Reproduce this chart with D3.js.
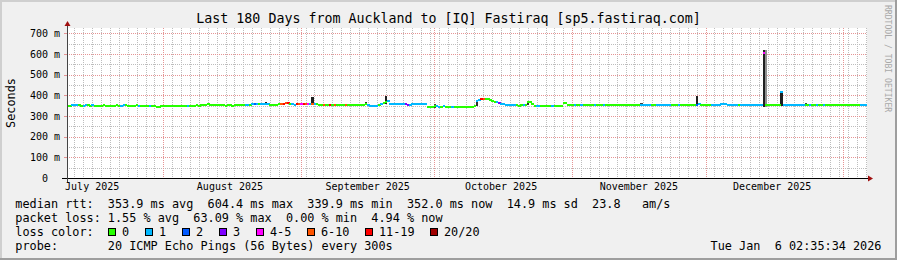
<!DOCTYPE html>
<html><head><meta charset="utf-8">
<script src="https://cdn.jsdelivr.net/npm/d3@7"></script>
<style>
html,body{margin:0;padding:0;background:#fff;}
svg text{font-family:"DejaVu Sans Mono",monospace;white-space:pre;}
</style></head><body>
<svg id="c" width="897" height="260"></svg>
<script>
const title = "Last 180 Days from Auckland to [IQ] Fastiraq [sp5.fastiraq.com]";
const yAxisTitle = "Seconds";
const watermark = "RRDTOOL / TOBI OETIKER";
const yTicks = [0, 100, 200, 300, 400, 500, 600, 700];
const yTickLabels = ["0  ", "100 m", "200 m", "300 m", "400 m", "500 m", "600 m", "700 m"];
const monthStarts = ["2025-07-01", "2025-08-01", "2025-09-01", "2025-10-01", "2025-11-01", "2025-12-01"];
const monthLabels = ["July 2025", "August 2025", "September 2025", "October 2025", "November 2025", "December 2025"];
const timeStart = "2025-07-10T08:00:00Z";
const timeEnd = "2026-01-06T08:00:00Z";
const binHours = 12;
const lossLabels = ["0", "1", "2", "3", "4-5", "6-10", "11-19", "20/20"];
const lossColors = ["#26ff00", "#00b8ff", "#0059ff", "#7e00ff", "#ff00ff", "#ff5500", "#ff0000", "#a00000"];
// median rtt (ms) per 12h bin
const median = [
350,349,352,353,353,351,349,350,352,351,
350,351,350,349,350,350,351,350,349,350,
350,350,351,350,350,352,351,350,350,350,
350,351,350,350,349,350,350,349,347,346,
345,345,346,346,346,347,346,346,347,346,
347,346,347,347,348,349,350,350,351,350,
351,352,355,356,355,352,351,351,351,351,
351,350,351,351,350,351,351,351,352,352,
353,354,352,356,358,360,358,356,358,360,
356,354,354,354,355,356,359,360,362,361,
360,358,355,356,357,357,358,357,356,357,
360,357,356,355,355,354,354,354,354,355,
354,354,355,354,354,354,355,355,354,354,
354,354,354,355,357,354,350,348,348,348,
355,356,362,369,370,360,359,359,359,359,
359,359,357,354,355,357,357,357,357,357,
357,357,345,345,345,346,347,345,345,346,
345,344,345,345,344,345,345,345,344,345,
345,345,345,346,372,375,382,384,383,380,
376,372,368,365,362,358,357,352,351,351,
351,351,351,350,351,351,352,369,369,356,
350,349,349,349,349,350,349,349,349,349,
349,349,350,364,363,355,354,354,354,354,
354,354,355,354,354,354,355,354,354,354,
353,353,352,353,353,352,353,353,353,353,
353,353,353,353,353,353,353,353,353,352,
352,352,352,353,353,352,352,352,352,352,
352,352,353,353,353,353,353,353,353,353,
353,353,353,355,356,353,353,353,353,353,
353,353,353,354,356,357,356,353,352,352,
352,352,352,352,352,352,352,352,352,352,
352,352,352,604,352,352,352,352,352,352,
352,414,352,352,352,352,352,352,352,352,
352,352,353,352,352,352,352,352,353,353,
353,353,353,352,353,353,353,353,353,353,
353,353,353,353,353,353,353,353,352,352
];
// loss colour index per bin (index into lossLabels)
const loss = [
0,0,1,1,1,0,0,1,1,0,
0,1,0,0,0,0,0,0,0,0,
0,0,0,0,1,1,0,0,0,0,
0,0,1,0,0,0,0,1,0,0,
0,0,0,0,0,0,0,0,0,0,
0,0,0,0,1,0,0,0,0,0,
0,0,0,0,0,0,0,0,0,0,
0,0,0,0,0,0,0,0,0,0,
1,1,0,1,2,1,0,1,1,1,
1,0,0,0,0,0,5,6,5,6,
0,1,1,6,5,4,6,5,4,1,
5,1,0,0,0,5,0,0,6,0,
5,0,0,0,0,5,0,0,0,0,
0,0,0,0,0,1,1,1,1,1,
0,1,0,0,1,1,1,1,1,1,
1,1,3,3,1,1,1,1,1,1,
1,1,0,0,0,0,1,1,0,1,
0,0,0,1,0,0,0,0,0,0,
0,0,0,0,1,1,6,5,0,0,
0,0,0,1,3,1,1,1,1,1,
1,1,0,0,0,1,0,0,0,0,
0,1,1,0,0,0,0,0,1,0,
0,0,0,0,0,0,0,0,1,0,
0,1,0,0,0,0,0,1,0,0,
0,1,0,0,0,0,0,0,0,0,
0,0,0,0,0,0,0,0,1,1,
1,1,1,0,0,1,1,1,1,1,
1,1,0,0,0,1,0,0,0,0,
0,0,0,2,1,0,0,0,0,0,
1,1,1,1,1,1,1,1,1,1,
1,1,0,1,1,1,1,1,1,1,
1,1,1,4,0,0,0,0,0,0,
0,1,1,1,1,1,1,1,1,1,
1,1,0,0,1,0,0,1,0,0,
1,0,0,0,0,0,0,0,0,0,
0,0,0,0,0,0,0,1,1,1
];
// smoke (ping spread) where visible: bin, low ms, high ms, shade
const smokeBins = [89, 110, 134, 143, 165, 184, 207, 258, 266, 283, 313, 314, 321, 332];
const smokeLow  = [352, 352, 352, 360, 340, 350, 355, 350, 350, 350, 345, 345, 350, 350];
const smokeHigh = [368, 390, 367, 395, 356, 378, 372, 364, 360, 398, 618, 618, 420, 362];
const smokeShade = ["#202020","#202020","#303030","#202020","#404040","#303030","#303030","#404040","#b0b0b0","#202020","#202020","#909090","#202020","#404040"];
const legendRows = [
  "median rtt:  353.9 ms avg  604.4 ms max  339.9 ms min  352.0 ms now  14.9 ms sd  23.8   am/s",
  "packet loss: 1.55 % avg  63.09 % max  0.00 % min  4.94 % now",
  "loss color:",
  "probe:       20 ICMP Echo Pings (56 Bytes) every 300s"
];
const timestamp = "Tue Jan  6 02:35:34 2026";

const W = 897, H = 260;
const svg = d3.select("#c");
const t0 = new Date(timeStart), t1 = new Date(timeEnd);
const x = d3.scaleUtc().domain([t0, t1]).range([67, 867]);
const y = d3.scaleLinear().domain([0, 725]).range([178, 28]);

// background & frame
svg.append("rect").attr("width", W).attr("height", H).attr("fill", "#f0f0f0");
svg.append("rect").attr("x", 0).attr("y", 0).attr("width", W).attr("height", 2).attr("fill", "#cfcfcf");
svg.append("rect").attr("x", 0).attr("y", 0).attr("width", 2).attr("height", H).attr("fill", "#cfcfcf");
svg.append("rect").attr("x", 0).attr("y", H - 2).attr("width", W).attr("height", 2).attr("fill", "#9e9e9e");
svg.append("rect").attr("x", W - 2).attr("y", 0).attr("width", 2).attr("height", H).attr("fill", "#9e9e9e");

// canvas
const [x0, x1] = x.range(), [yb, yt] = y.range();
svg.append("rect").attr("x", x0).attr("y", yt).attr("width", x1 - x0).attr("height", yb - yt).attr("fill", "#ffffff");

const grid = svg.append("g").attr("shape-rendering", "crispEdges");
const minorCol = "#bdbdbd", majorCol = "#e59494";
// minor vertical grid every 2 days
const majorT = monthStarts.map(s => new Date(s + "T00:00:00Z")).filter(d => d >= t0 && d <= t1);
majorT.push(new Date("2026-01-01T00:00:00Z"));
const days = d3.utcDay.range(d3.utcDay.floor(t0), t1).filter((d, i) => i % 2 === 0 && d >= t0);
const majorSet = new Set(majorT.map(d => +d));
grid.selectAll("line.mv").data(days.filter(d => !majorSet.has(+d))).join("line")
  .attr("x1", d => Math.round(x(d)) + 0.5).attr("x2", d => Math.round(x(d)) + 0.5)
  .attr("y1", yt).attr("y2", yb)
  .attr("stroke", minorCol).attr("stroke-dasharray", "1,1");
// minor horizontal grid every 50
const minorY = d3.range(50, 725, 100);
grid.selectAll("line.mh").data(minorY).join("line")
  .attr("x1", x0).attr("x2", x1)
  .attr("y1", d => Math.round(y(d)) + 0.5).attr("y2", d => Math.round(y(d)) + 0.5)
  .attr("stroke", minorCol).attr("stroke-dasharray", "1,1");
// major grids
grid.selectAll("line.Mv").data(majorT.filter(d => d >= t0 && d <= t1)).join("line")
  .attr("x1", d => Math.round(x(d)) + 0.5).attr("x2", d => Math.round(x(d)) + 0.5)
  .attr("y1", yt).attr("y2", yb)
  .attr("stroke", majorCol).attr("stroke-dasharray", "1,1");
grid.selectAll("line.Mh").data(yTicks.filter(v => v > 0)).join("line")
  .attr("x1", x0).attr("x2", x1)
  .attr("y1", d => Math.round(y(d)) + 0.5).attr("y2", d => Math.round(y(d)) + 0.5)
  .attr("stroke", majorCol).attr("stroke-dasharray", "1,1");
grid.selectAll("line.Mt").data(yTicks.filter(v => v > 0)).join("line")
  .attr("x1", x0 - 3).attr("x2", x0)
  .attr("y1", d => Math.round(y(d)) + 0.5).attr("y2", d => Math.round(y(d)) + 0.5)
  .attr("stroke", majorCol);

// data
const binMs = binHours * 3600 * 1000;
const binT = i => new Date(+t0 + i * binMs);
const plot = svg.append("g").attr("shape-rendering", "crispEdges");
plot.selectAll("rect.smoke").data(smokeBins.map((b, i) => ({b, lo: smokeLow[i], hi: smokeHigh[i], c: smokeShade[i]}))).join("rect")
  .attr("x", d => x(binT(d.b))).attr("width", d => x(binT(d.b + 1)) - x(binT(d.b)))
  .attr("y", d => y(d.hi)).attr("height", d => y(d.lo) - y(d.hi))
  .attr("fill", d => d.c);
plot.selectAll("rect.med").data(median.map((v, i) => ({i, v, l: loss[i]}))).join("rect")
  .attr("x", d => x(binT(d.i))).attr("width", d => x(binT(d.i + 1)) - x(binT(d.i)) + 0.3)
  .attr("y", d => Math.round(y(d.v)) - 1).attr("height", 2)
  .attr("fill", d => lossColors[d.l]);

// axes
const ax = svg.append("g").attr("shape-rendering", "crispEdges");
ax.append("line").attr("x1", x0 - 5).attr("x2", x1 + 2).attr("y1", yb + 0.5).attr("y2", yb + 0.5).attr("stroke", "#000");
ax.append("line").attr("x1", x0 + 0.5).attr("x2", x0 + 0.5).attr("y1", yb + 4).attr("y2", yt - 2).attr("stroke", "#444");
svg.append("path").attr("d", `M${x1 + 1},${yb - 2.5}L${x1 + 6},${yb + 0.5}L${x1 + 1},${yb + 3.5}Z`).attr("fill", "#a01010");
svg.append("path").attr("d", `M${x0 - 2.5},${yt - 2}L${x0 + 0.5},${yt - 7}L${x0 + 3.5},${yt - 2}Z`).attr("fill", "#a01010");

// y labels
svg.selectAll("text.yl").data(yTicks).join("text")
  .attr("x", 60).attr("y", d => y(d) + 3.7).attr("text-anchor", "end")
  .attr("font-size", "10px").attr("fill", "#000")
  .text((d, i) => yTickLabels[i]);
// month labels (centred at month start + 15 days)
svg.selectAll("text.ml").data(monthStarts).join("text")
  .attr("x", d => x(new Date(+new Date(d + "T00:00:00Z") + 15 * 86400000)))
  .attr("y", 189.5).attr("text-anchor", "middle")
  .attr("font-size", "10px").attr("fill", "#000")
  .text((d, i) => monthLabels[i]);

// title
svg.append("text").attr("x", 448.5).attr("y", 23).attr("text-anchor", "middle")
  .attr("font-size", "13.3px").attr("fill", "#000").text(title);
// y title
svg.append("text").attr("transform", "translate(14.5,103) rotate(-90)").attr("text-anchor", "middle")
  .attr("font-size", "11.84px").attr("fill", "#000").text(yAxisTitle);
// watermark
svg.append("text").attr("transform", "translate(885,5) rotate(90)")
  .attr("font-size", "8.1px").attr("fill", "#a8a8a8").text(watermark);

// legend
svg.selectAll("text.lg").data(legendRows).join("text")
  .attr("x", 15.3).attr("y", (d, i) => 208 + i * 14)
  .attr("font-size", "11.84px").attr("fill", "#000").text(d => d);
const cw = 7.13;
let bx = 108.5;
lossLabels.forEach((lab, i) => {
  svg.append("rect").attr("x", bx).attr("y", 228.5).attr("width", 7).attr("height", 7)
    .attr("fill", lossColors[i]).attr("stroke", "#000").attr("shape-rendering", "crispEdges");
  svg.append("text").attr("x", bx + 13.5).attr("y", 236).attr("font-size", "11.84px").attr("fill", "#000").text(lab);
  bx += Math.round(14.3 + lab.length * cw + 15.5);
});
svg.append("text").attr("x", 881.5).attr("y", 250).attr("text-anchor", "end")
  .attr("font-size", "11.84px").attr("fill", "#000").text(timestamp);
</script>
</body></html>
